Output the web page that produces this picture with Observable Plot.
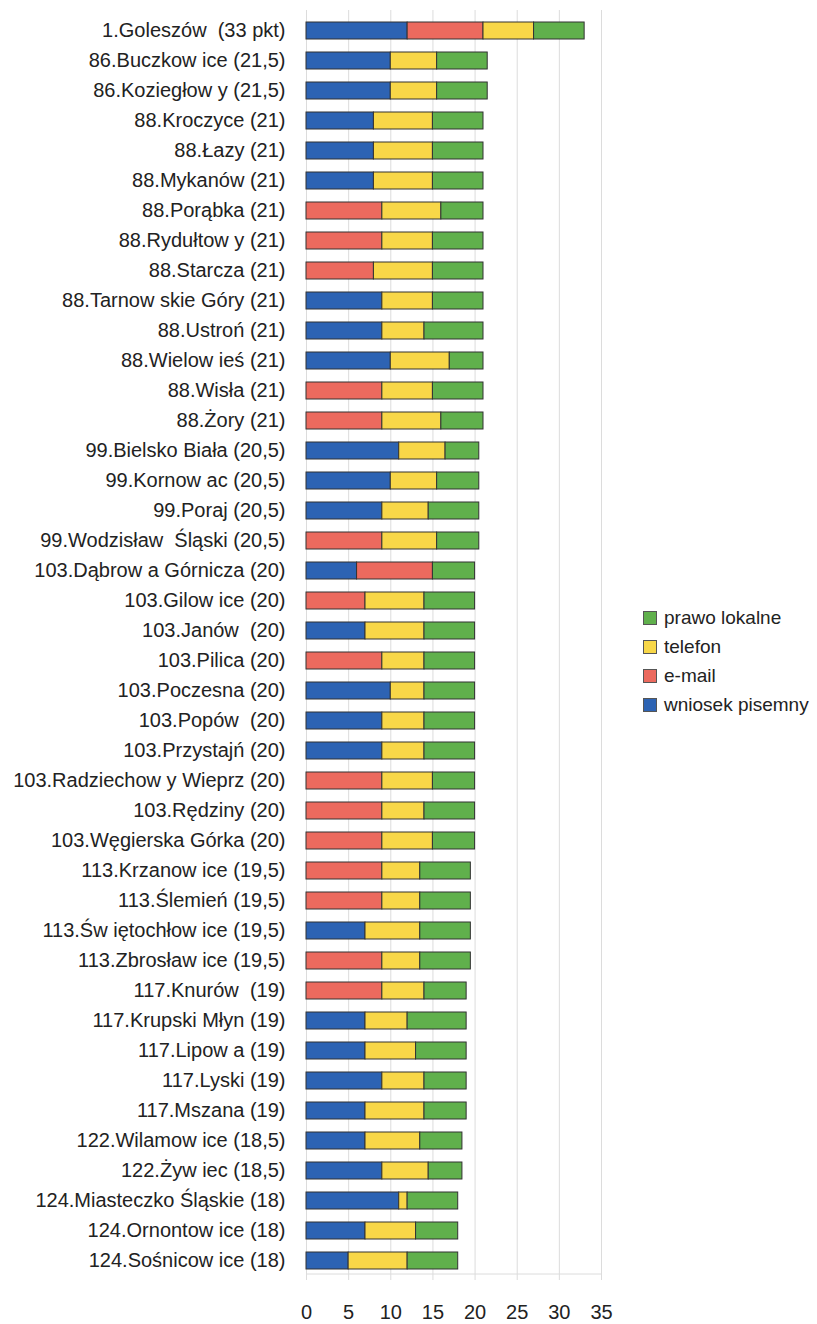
<!DOCTYPE html>
<html>
<head>
<meta charset="utf-8">
<script src="https://cdn.jsdelivr.net/npm/d3@7"></script>
<script src="https://cdn.jsdelivr.net/npm/@observablehq/plot@0.6"></script>
<style>
  body { margin: 0; background: #fff; }
  #wrap { position: relative; width: 817px; height: 1324px; font-family: "Liberation Sans", Arial, sans-serif; }
  #legend { position: absolute; left: 643px; top: 603px; font-size: 19px; color: #222; white-space: nowrap; }
  #legend .row { display: flex; align-items: center; height: 29px; white-space: nowrap; }
  #legend .sw { flex: none; width: 12px; height: 12px; border: 1px solid #555; margin-right: 7px; }
</style>
</head>
<body>
<div id="wrap"></div>
<script>
const names = [
  "1.Goleszów\u00a0 (33 pkt)", "86.Buczkow ice (21,5)", "86.Koziegłow y (21,5)", "88.Kroczyce (21)",
  "88.Łazy (21)", "88.Mykanów (21)", "88.Porąbka (21)", "88.Rydułtow y (21)", "88.Starcza (21)",
  "88.Tarnow skie Góry (21)", "88.Ustroń (21)", "88.Wielow ieś (21)", "88.Wisła (21)", "88.Żory (21)",
  "99.Bielsko Biała (20,5)", "99.Kornow ac (20,5)", "99.Poraj (20,5)", "99.Wodzisław\u00a0 Śląski (20,5)",
  "103.Dąbrow a Górnicza (20)", "103.Gilow ice (20)", "103.Janów\u00a0 (20)", "103.Pilica (20)",
  "103.Poczesna (20)", "103.Popów\u00a0 (20)", "103.Przystajń (20)", "103.Radziechow y Wieprz (20)",
  "103.Rędziny (20)", "103.Węgierska Górka (20)", "113.Krzanow ice (19,5)", "113.Ślemień (19,5)",
  "113.Św iętochłow ice (19,5)", "113.Zbrosław ice (19,5)", "117.Knurów\u00a0 (19)", "117.Krupski Młyn (19)",
  "117.Lipow a (19)", "117.Lyski (19)", "117.Mszana (19)", "122.Wilamow ice (18,5)", "122.Żyw iec (18,5)",
  "124.Miasteczko Śląskie (18)", "124.Ornontow ice (18)", "124.Sośnicow ice (18)"
];
const pisemny = [12,10,10,8,8,8,0,0,0,9, 9,10,0,0,11,10,9,0,6,0, 7,0,10,9,9,0,0,0,0,0, 7,0,0,7,7,9,7,7,9,11,7,5];
const email   = [9,0,0,0,0,0,9,9,8,0, 0,0,9,9,0,0,0,9,9,7, 0,9,0,0,0,9,9,9,9,9, 0,9,9,0,0,0,0,0,0,0,0,0];
const telefon = [6,5.5,5.5,7,7,7,7,6,7,6, 5,7,6,7,5.5,5.5,5.5,6.5,0,7, 7,5,4,5,5,6,5,6,4.5,4.5, 6.5,4.5,5,5,6,5,7,6.5,5.5,1,6,7];
const prawo   = [6,6,6,6,6,6,5,6,6,6, 7,4,6,5,4,5,6,5,5,6, 6,6,6,6,6,5,6,5,6,6, 6,6,5,7,6,5,5,5,4,6,5,6];
const types  = ["wniosek pisemny", "e-mail", "telefon", "prawo lokalne"];
const colors = ["#2d63b3", "#ec6a5e", "#f8d748", "#60b04c"];
const xTicks = [0, 5, 10, 15, 20, 25, 30, 35];

const series = [pisemny, email, telefon, prawo];
const data = [];
names.forEach((n, i) => {
  types.forEach((t, k) => {
    if (series[k][i] > 0) data.push({name: n, type: t, value: series[k][i]});
  });
});

const chart = Plot.plot({
  width: 817,
  height: 1324,
  marginLeft: 306,
  marginRight: 216,
  marginTop: 10,
  marginBottom: 44,
  style: {fontFamily: "'Liberation Sans', Arial, sans-serif", fontSize: "20px", color: "#222", background: "#fff"},
  x: {domain: [0, 35], ticks: xTicks, label: null},
  y: {domain: names, paddingInner: 0.45, paddingOuter: 0.155, label: null},
  color: {domain: types, range: colors},
  marks: [
    Plot.gridX(xTicks, {stroke: "#dcdcdc", strokeOpacity: 1}),
    Plot.ruleY([0], {y: () => names[names.length - 1], dy: 13, x1: 0, x2: 35, stroke: "#dcdcdc", strokeOpacity: 1}),
    Plot.barX(data, Plot.stackX({x: "value", y: "name", fill: "type", order: types, stroke: "#333", strokeWidth: 1})),
    Plot.axisX({ticks: xTicks, tickSize: 0, tickPadding: 24, label: null}),
    Plot.axisY({tickSize: 0, tickPadding: 21, label: null})
  ]
});
document.getElementById("wrap").appendChild(chart);

const legend = d3.select("#wrap").append("div").attr("id", "legend");
types.slice().reverse().forEach(t => {
  const row = legend.append("div").attr("class", "row");
  row.append("div").attr("class", "sw").style("background", colors[types.indexOf(t)]);
  row.append("span").text(t);
});
</script>
</body>
</html>
